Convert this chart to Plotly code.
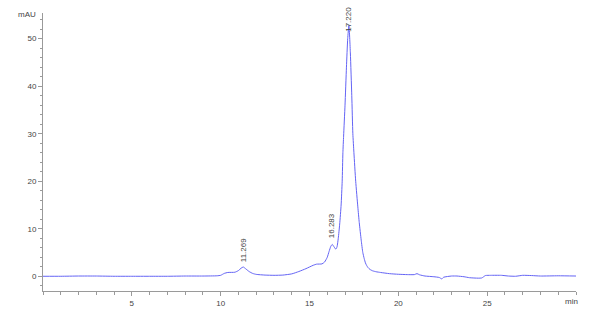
import plotly.graph_objects as go

# Chromatogram trace (time in min, absorbance in mAU)
time_min = [0.0, 1.0, 2.0, 3.0, 4.0, 5.0, 6.0, 7.0, 8.0, 9.0, 9.8, 10.0, 10.2, 10.4, 10.8,
            11.0, 11.15, 11.27, 11.4, 11.6, 11.8, 12.0, 12.5, 13.0, 13.5, 14.0, 14.4, 14.8,
            15.2, 15.4, 15.7, 15.85, 16.0, 16.1, 16.2, 16.28, 16.38, 16.48, 16.55, 16.62,
            16.7, 16.78, 16.84, 16.88, 16.92, 17.0, 17.08, 17.15, 17.22, 17.3, 17.38, 17.44,
            17.5, 17.6, 17.72, 17.8, 17.91, 18.0, 18.08, 18.15, 18.22, 18.3, 18.4, 18.55,
            18.75, 19.0, 19.5, 20.0, 20.5, 20.9, 21.05, 21.2, 21.5, 22.0, 22.3, 22.45, 22.55,
            23.0, 23.3, 23.7, 24.0, 24.5, 24.7, 24.9, 25.2, 25.8, 26.2, 26.6, 27.0, 27.5,
            28.0, 29.0, 30.0]
signal_mau = [0.0, 0.0, 0.05, 0.05, 0.0, 0.0, 0.0, 0.0, 0.05, 0.05, 0.1, 0.2, 0.6, 0.8, 0.85,
              1.2, 1.7, 1.95, 1.6, 1.0, 0.6, 0.4, 0.25, 0.2, 0.25, 0.5, 1.0, 1.6,
              2.3, 2.55, 2.6, 3.0, 4.0, 5.2, 6.3, 6.7, 6.2, 5.7, 6.2, 8.0,
              11.0, 15.0, 20.0, 26.0, 29.5, 36.0, 44.0, 50.0, 52.8, 47.0, 38.0, 30.0,
              26.0, 20.0, 14.6, 11.3, 7.6, 5.0, 3.7, 2.8, 2.25, 1.8, 1.45, 1.15,
              0.95, 0.8, 0.55, 0.42, 0.35, 0.35, 0.55, 0.3, 0.05, -0.1, -0.25, -0.55, -0.2,
              0.05, 0.05, -0.1, -0.3, -0.4, -0.35, 0.15, 0.2, 0.2, 0.05, 0.0, 0.2, 0.15,
              0.05, 0.1, 0.05]

# Peak labels
peak_times = [11.269, 16.283, 17.220]
peak_heights = [1.95, 6.7, 52.8]
peak_labels = ["11.269", "16.283", "17.220"]
label_shift = [3, 4, -8]

x_ticks = [5, 10, 15, 20, 25]
y_ticks = [0, 10, 20, 30, 40, 50]

axis_col = "#9a9a9a"
text_col = "#444444"
font = dict(family="Liberation Sans, Arial, sans-serif", size=8, color=text_col)

fig = go.Figure()
fig.add_trace(go.Scatter(x=time_min, y=signal_mau, mode="lines",
                         line=dict(color="rgb(100,100,245)", width=1, shape="spline", smoothing=0.5),
                         hoverinfo="skip", showlegend=False))

for t, h, lab, s in zip(peak_times, peak_heights, peak_labels, label_shift):
    fig.add_annotation(x=t, y=h, text=lab, textangle=-90, showarrow=False,
                       xanchor="center", yanchor="bottom", yshift=s, font=font)

fig.add_annotation(x=30, y=0, xref="x", yref="paper", text="min", showarrow=False,
                   xanchor="right", yanchor="top", xshift=4, yshift=-4, font=font)
fig.add_annotation(x=0, y=55.0, xref="paper", yref="y", text="mAU", showarrow=False,
                   xanchor="right", yanchor="middle", xshift=-5, font=font)

fig.update_layout(
    template="none",
    width=600, height=314,
    margin=dict(l=43, r=24, t=13, b=23, pad=0),
    paper_bgcolor="white", plot_bgcolor="white",
    font=font,
    xaxis=dict(range=[0, 30], tickvals=x_ticks, showgrid=False, zeroline=False,
               automargin=False,
               showline=True, linecolor=axis_col, linewidth=1,
               ticks="outside", ticklen=4, tickcolor=axis_col, tickfont=font,
               minor=dict(dtick=1, ticks="outside", ticklen=3, tickcolor=axis_col, tick0=0)),
    yaxis=dict(range=[-3.1, 55.4], tickvals=y_ticks, showgrid=False, zeroline=False,
               automargin=False,
               showline=True, linecolor=axis_col, linewidth=1,
               ticks="outside", ticklen=4, tickcolor=axis_col, tickfont=font,
               minor=dict(dtick=2, ticks="outside", ticklen=2, tickcolor=axis_col, tick0=0)),
)

fig.write_html("out.html")
